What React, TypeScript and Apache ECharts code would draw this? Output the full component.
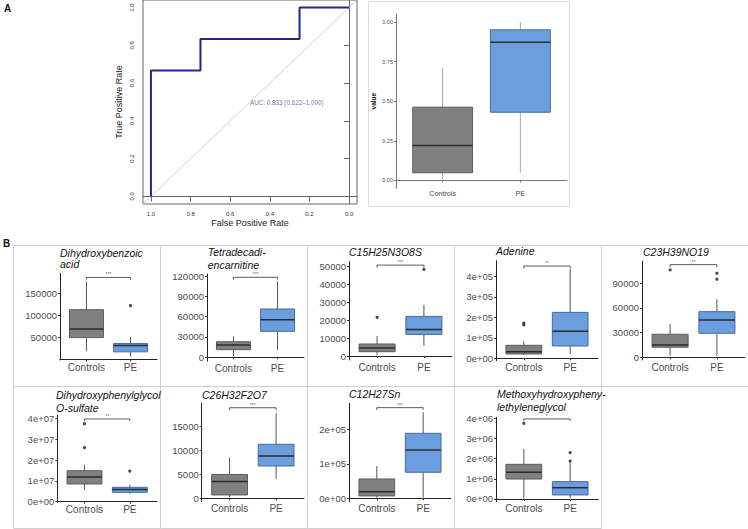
import React, { useEffect, useRef } from 'react';
import * as echarts from 'echarts';

// ---------- DATA ----------
const categories = ['Controls', 'PE'];

// ROC curve (x axis shown reversed: 1 -> 0)
const rocSpecificity = [1.0, 1.0, 0.75, 0.75, 0.25, 0.25, 0.0];
const rocSensitivity = [0.0, 0.667, 0.667, 0.833, 0.833, 1.0, 1.0];
const rocTicks = [0, 0.2, 0.4, 0.6, 0.8, 1.0];
const aucLabel = 'AUC: 0.833 (0.622\u20131.000)';

// Panel A boxplot of predicted value: [min, q1, median, q3, max]
const scoreControls = [0.0, 0.048, 0.22, 0.462, 0.71];
const scorePE = [0.048, 0.43, 0.871, 0.95, 1.0];
const scoreTicks = [0, 0.25, 0.5, 0.75, 1.0];

// Panel B metabolites
const metaboliteTitles = [
  ['Dihydroxybenzoic', 'acid'],
  ['Tetradecadi-', 'encarnitine'],
  ['C15H25N3O8S'],
  ['Adenine'],
  ['C23H39NO19'],
  ['Dihydroxyphenylglycol', 'O-sulfate'],
  ['C26H32F2O7'],
  ['C12H27Sn'],
  ['Methoxyhydroxypheny-', 'lethyleneglycol'],
];
const controlsStats = [
  [18900, 50000, 69700, 113600, 178000],
  [1900, 11200, 18200, 23000, 31000],
  [400, 2400, 4400, 6700, 11100],
  [16000, 21000, 32200, 63400, 83000],
  [2000, 12200, 15000, 28000, 40500],
  [5.6e6, 8.5e6, 1.18e7, 1.49e7, 1.76e7],
  [200, 700, 3500, 5000, 8500],
  [1900, 6800, 19300, 56000, 93700],
  [30000, 990000, 1320000, 1720000, 2480000],
];
const peStats = [
  [7500, 17500, 31800, 36400, 51600],
  [10800, 38400, 55600, 71400, 112300],
  [5700, 12000, 14800, 22000, 28500],
  [21000, 60000, 131700, 224000, 435000],
  [2000, 29200, 45400, 55500, 70500],
  [3.8e6, 4.5e6, 5.8e6, 6.9e6, 8.2e6],
  [4000, 6760, 8850, 11300, 17800],
  [1900, 75400, 140000, 188400, 249300],
  [30000, 200000, 560000, 860000, 1780000],
];
const controlsOutliers = [[], [], [21500], [163000, 172000], [106200], [2.59e7, 3.74e7], [], [], [3750000]];
const peOutliers = [[122700], [], [48100], [], [94900, 102200], [1.47e7], [], [], [1880000, 2300000]];
const bracketValues = [187000, 118200, 50500, 450000, 112700, 3.97e7, 18950, 262800, 3970000];
const significance = ['***', '***', '***', '**', '**', '**', '***', '***', '*'];
const yDomains = [
  [-1000, 196400],
  [-5470, 123100],
  [-2200, 52400],
  [-11700, 476000],
  [-3300, 117100],
  [-2.9e5, 4.16e7],
  [-710, 19940],
  [-9900, 275400],
  [-134000, 4050000],
];
const yTicks = [
  [50000, 100000, 150000],
  [0, 30000, 60000, 90000, 120000],
  [0, 10000, 20000, 30000, 40000, 50000],
  [0, 100000, 200000, 300000, 400000],
  [0, 30000, 60000, 90000],
  [0, 1e7, 2e7, 3e7, 4e7],
  [0, 5000, 10000, 15000],
  [0, 100000, 200000],
  [0, 1e6, 2e6, 3e6, 4e6],
];
const sciFormat = [false, false, false, true, false, true, false, true, true];

// ---------- LAYOUT (pixels) ----------
const plotBoxes = [
  [60, 273.3, 157, 360],
  [207, 274, 304, 361],
  [349, 261.7, 452, 360],
  [496, 260.7, 598, 360.7],
  [642, 261, 745, 360],
  [57.3, 415, 157, 502.3],
  [201.7, 403, 304, 501.7],
  [349, 403.3, 451, 501.7],
  [496, 417.3, 598, 501.7],
];
const titlePos = [
  [60, 253, 264.3],
  [207.7, 252, 264.7],
  [349, 251.7],
  [496, 251.3],
  [643, 251.7],
  [56, 395, 407.7],
  [202, 395],
  [349, 394.3],
  [497, 393.7, 407],
];
const panelCols = [13, 160, 307, 454, 601, 748];
const panelRows = [245, 386, 528];

const FONT = 'Liberation Sans, Arial, sans-serif';
const fills = ['#808080', '#6b9edf'];
const strokes = ['#5c5c5c', '#4c6a96'];

function sciLabel(v: number) {
  if (v === 0) return '0e+00';
  const e = Math.floor(Math.log10(Math.abs(v)) + 1e-9);
  const m = Math.round(v / Math.pow(10, e));
  return `${m}e+${String(e).padStart(2, '0')}`;
}

function boxRenderer(whisker: string, widthFrac: number) {
  return (params: any, api: any) => {
    const x = api.value(0);
    const lo = api.coord([x, api.value(1)]);
    const q1 = api.coord([x, api.value(2)]);
    const md = api.coord([x, api.value(3)]);
    const q3 = api.coord([x, api.value(4)]);
    const hi = api.coord([x, api.value(5)]);
    const hw = api.size([widthFrac, 0])[0] / 2;
    const cx = q1[0];
    const i = params.dataIndex;
    return {
      type: 'group',
      children: [
        { type: 'line', shape: { x1: cx, y1: hi[1], x2: cx, y2: q3[1] }, style: { stroke: whisker, lineWidth: 1 } },
        { type: 'line', shape: { x1: cx, y1: q1[1], x2: cx, y2: lo[1] }, style: { stroke: whisker, lineWidth: 1 } },
        {
          type: 'rect',
          shape: { x: cx - hw, y: q3[1], width: 2 * hw, height: q1[1] - q3[1] },
          style: { fill: fills[i], stroke: strokes[i], lineWidth: 1 },
        },
        { type: 'line', shape: { x1: cx - hw, y1: md[1], x2: cx + hw, y2: md[1] }, style: { stroke: '#2b2b2b', lineWidth: 1.5 } },
      ],
    };
  };
}

function buildOption() {
  const grid: any[] = [];
  const xAxis: any[] = [];
  const yAxis: any[] = [];
  const series: any[] = [];
  const graphic: any[] = [];

  // ----- ROC -----
  grid.push({ left: 143, top: 0, width: 214, height: 204, show: true, borderColor: '#666', borderWidth: 1, backgroundColor: 'transparent' });
  xAxis.push({
    gridIndex: 0, type: 'value', inverse: true, min: -0.04, max: 1.04,
    axisLine: { show: true, lineStyle: { color: '#666', width: 1 } },
    axisTick: { show: true, length: 5, customValues: rocTicks, lineStyle: { color: '#666' } },
    axisLabel: { customValues: rocTicks, formatter: (v: number) => v.toFixed(1), fontSize: 6, color: '#333', margin: 7, fontFamily: FONT },
    splitLine: { show: false },
    name: 'False Positive Rate', nameLocation: 'middle', nameGap: 14,
    nameTextStyle: { fontSize: 9, color: '#222', fontFamily: FONT },
  });
  yAxis.push({
    gridIndex: 0, type: 'value', min: -0.04, max: 1.04,
    axisLine: { show: true, lineStyle: { color: '#666', width: 1 } },
    axisTick: { show: true, length: 5, customValues: rocTicks, lineStyle: { color: '#666' } },
    axisLabel: { customValues: rocTicks, formatter: (v: number) => v.toFixed(1), fontSize: 6, color: '#333', margin: 8, rotate: 90, fontFamily: FONT },
    splitLine: { show: false },
    name: 'True Positive Rate', nameLocation: 'middle', nameGap: 20,
    nameTextStyle: { fontSize: 9, color: '#222', fontFamily: FONT },
  });
  series.push({
    type: 'line', xAxisIndex: 0, yAxisIndex: 0, data: [[1.04, -0.04], [-0.04, 1.04]],
    symbol: 'none', lineStyle: { color: '#c4c4c4', width: 0.8 }, silent: true,
  });
  series.push({
    type: 'line', xAxisIndex: 0, yAxisIndex: 0,
    data: rocSpecificity.map((s, i) => [s, rocSensitivity[i]]),
    symbol: 'none', lineStyle: { color: '#25258a', width: 2 }, silent: true,
  });
  series.push({
    type: 'scatter', xAxisIndex: 0, yAxisIndex: 0, data: [[0.5, 0.5]], symbolSize: 0.1,
    itemStyle: { color: 'transparent' },
    label: { show: true, position: 'right', distance: 0, formatter: aucLabel, fontSize: 6.3, color: '#4a4a9e', fontFamily: FONT },
    silent: true,
  });

  // ----- Panel A boxplot -----
  grid.push({ left: 396, top: 14, width: 171, height: 174.3 });
  xAxis.push({
    gridIndex: 1, type: 'value', min: 0.4, max: 2.6,
    axisLine: { show: true, lineStyle: { color: '#777', width: 1 } },
    axisTick: { show: true, length: 2, customValues: [1, 2], lineStyle: { color: '#777' } },
    axisLabel: { customValues: [1, 2], formatter: (v: number) => categories[v - 1], fontSize: 7.2, color: '#4d4d4d', margin: 1.5, fontFamily: FONT },
    splitLine: { show: false },
  });
  yAxis.push({
    gridIndex: 1, type: 'value', min: -0.05, max: 1.05,
    axisLine: { show: true, lineStyle: { color: '#777', width: 1 } },
    axisTick: { show: true, length: 2, customValues: scoreTicks, lineStyle: { color: '#777' } },
    axisLabel: { customValues: scoreTicks, formatter: (v: number) => v.toFixed(2), fontSize: 5.5, color: '#4d4d4d', margin: 3, fontFamily: FONT },
    splitLine: { show: false },
    name: 'value', nameLocation: 'middle', nameGap: 19,
    nameTextStyle: { fontSize: 6.5, color: '#111', fontWeight: 'bold', fontFamily: FONT },
  });
  series.push({
    type: 'custom', xAxisIndex: 1, yAxisIndex: 1,
    renderItem: boxRenderer('#a8a8a8', 0.77),
    encode: { x: 0, y: [1, 2, 3, 4, 5] },
    data: [[1, ...scoreControls], [2, ...scorePE]],
    silent: true,
  });
  graphic.push({ type: 'rect', shape: { x: 368.5, y: 1.5, width: 201, height: 205 }, style: { fill: 'none', stroke: '#dcdcdc', lineWidth: 1 }, silent: true });

  // ----- Panel B -----
  for (let r = 0; r < 2; r++) {
    const nCols = r === 0 ? 5 : 4;
    for (let c = 0; c < nCols; c++) {
      graphic.push({
        type: 'rect',
        shape: { x: panelCols[c] + 0.5, y: panelRows[r] + 0.5, width: panelCols[c + 1] - panelCols[c], height: panelRows[r + 1] - panelRows[r] },
        style: { fill: 'none', stroke: '#cfcfcf', lineWidth: 1 }, silent: true,
      });
    }
  }

  metaboliteTitles.forEach((title, k) => {
    const gi = k + 2;
    const [l, t, rr, b] = plotBoxes[k];
    const [yMin, yMax] = yDomains[k];
    grid.push({ left: l, top: t, width: rr - l, height: b - t });
    xAxis.push({
      gridIndex: gi, type: 'value', min: 0.4, max: 2.6,
      axisLine: { show: true, lineStyle: { color: '#222', width: 1 } },
      axisTick: { show: true, length: 2, customValues: [1, 2], lineStyle: { color: '#333' } },
      axisLabel: { customValues: [1, 2], formatter: (v: number) => categories[v - 1], fontSize: 10, color: '#4d4d4d', margin: 2, fontFamily: FONT },
      splitLine: { show: false },
    });
    yAxis.push({
      gridIndex: gi, type: 'value', min: yMin, max: yMax,
      axisLine: { show: true, lineStyle: { color: '#222', width: 1 } },
      axisTick: { show: true, length: 2, customValues: yTicks[k], lineStyle: { color: '#333' } },
      axisLabel: {
        customValues: yTicks[k],
        formatter: (v: number) => (sciFormat[k] ? sciLabel(v) : String(Math.round(v))),
        fontSize: 9.5, color: '#4d4d4d', margin: 3, fontFamily: FONT,
      },
      splitLine: { show: false },
    });
    series.push({
      type: 'custom', xAxisIndex: gi, yAxisIndex: gi,
      renderItem: boxRenderer('#555', 0.77),
      encode: { x: 0, y: [1, 2, 3, 4, 5] },
      data: [[1, ...controlsStats[k]], [2, ...peStats[k]]],
      silent: true,
    });
    const outs = [
      ...controlsOutliers[k].map((v) => [1, v]),
      ...peOutliers[k].map((v) => [2, v]),
    ];
    if (outs.length) {
      series.push({
        type: 'scatter', xAxisIndex: gi, yAxisIndex: gi, data: outs,
        symbolSize: 3.2, itemStyle: { color: '#1a1a1a' }, silent: true,
      });
    }
    const bv = bracketValues[k];
    const tip = 0.025 * (yMax - yMin);
    series.push({
      type: 'line', xAxisIndex: gi, yAxisIndex: gi,
      data: [[1, bv - tip], [1, bv], [2, bv], [2, bv - tip]],
      symbol: 'none', lineStyle: { color: '#333', width: 0.8 }, silent: true,
    });
    series.push({
      type: 'scatter', xAxisIndex: gi, yAxisIndex: gi, data: [[1.5, bv]], symbolSize: 0.1,
      itemStyle: { color: 'transparent' },
      label: { show: true, position: 'top', distance: 0.5, formatter: significance[k], fontSize: 5, color: '#333', fontFamily: FONT },
      silent: true,
    });
    const tp = titlePos[k];
    title.forEach((line, li) => {
      graphic.push({
        type: 'text', x: tp[0], y: tp[1 + li], silent: true,
        style: { text: line, fill: '#111', font: `italic 10.5px ${FONT}`, textAlign: 'left', textVerticalAlign: 'middle' },
      });
    });
  });

  graphic.push({ type: 'text', x: 4, y: 8, silent: true, style: { text: 'A', fill: '#111', font: `bold 10px ${FONT}`, textAlign: 'left', textVerticalAlign: 'middle' } });
  graphic.push({ type: 'text', x: 3, y: 243, silent: true, style: { text: 'B', fill: '#111', font: `bold 10px ${FONT}`, textAlign: 'left', textVerticalAlign: 'middle' } });

  return {
    animation: false,
    backgroundColor: '#ffffff',
    textStyle: { fontFamily: FONT },
    grid, xAxis, yAxis, series, graphic,
  };
}

export default function App() {
  const ref = useRef<HTMLDivElement>(null);
  useEffect(() => {
    document.body.style.margin = '0';
    if (!ref.current) return;
    const chart = echarts.init(ref.current, undefined, { renderer: 'svg' });
    chart.setOption(buildOption() as any);
    return () => chart.dispose();
  }, []);
  return <div ref={ref} style={{ width: 748, height: 529 }} />;
}
